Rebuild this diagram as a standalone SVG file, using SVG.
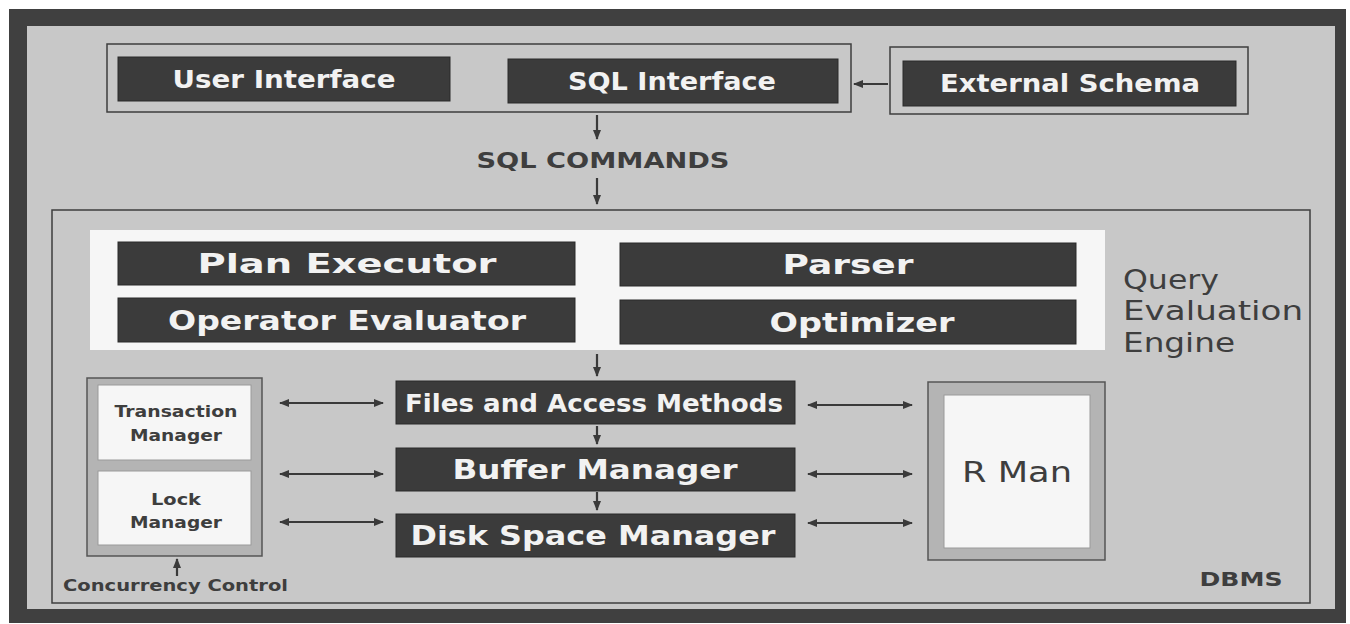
<svg xmlns="http://www.w3.org/2000/svg" width="1350" height="624" viewBox="0 0 1350 624">
<defs>
<marker id="ah" viewBox="0 0 10 10" refX="9" refY="5" markerWidth="11" markerHeight="10" markerUnits="userSpaceOnUse" orient="auto-start-reverse">
<path d="M0,1 L10,5 L0,9 Z" fill="#3a3a3a"/>
</marker>
<style>
.dark{fill:#3b3b3b;stroke:#2a2a2a;stroke-width:1}
.wt{fill:#f2f2f2;font-family:"DejaVu Sans",sans-serif;text-anchor:middle;font-weight:bold}
.gt{fill:#3e3e3e;font-family:"DejaVu Sans",sans-serif;text-anchor:middle}
.frame{fill:none;stroke:#3e3e3e;stroke-width:1.5}
.conn line{stroke:#3a3a3a;stroke-width:2.2}
.white{fill:#f6f6f6;stroke:#9a9a9a;stroke-width:1}
.grp{fill:#b4b4b4;stroke:#555;stroke-width:1.5}
</style>
</defs>
<rect x="0" y="0" width="1350" height="624" fill="#ffffff"/>
<rect x="9" y="9" width="1337" height="614" fill="#404040"/>
<rect x="27" y="26" width="1308" height="583" fill="#c8c8c8"/>

<g id="top-group">
<rect class="frame" x="107" y="44" width="744" height="68"/>
</g>
<g id="user-interface">
<rect class="dark" x="118" y="57" width="332" height="44"/>
<text class="wt" x="284" y="88" font-size="24" textLength="223" lengthAdjust="spacingAndGlyphs">User Interface</text>
</g>
<g id="sql-interface">
<rect class="dark" x="508" y="59" width="330" height="44"/>
<text class="wt" x="672" y="90" font-size="24" textLength="208" lengthAdjust="spacingAndGlyphs">SQL Interface</text>
</g>
<g id="external-schema">
<rect class="frame" x="890" y="47" width="358" height="67"/>
<rect class="dark" x="903" y="61" width="333" height="45"/>
<text class="wt" x="1070" y="92" font-size="24" textLength="260" lengthAdjust="spacingAndGlyphs">External Schema</text>
</g>
<g id="sql-commands">
<text class="gt" x="603" y="168" font-size="21" font-weight="bold" textLength="253" lengthAdjust="spacingAndGlyphs">SQL COMMANDS</text>
</g>

<g id="dbms">
<rect class="frame" x="52" y="210" width="1258" height="393"/>
<text class="gt" x="1241" y="586" font-size="20" font-weight="bold" textLength="83" lengthAdjust="spacingAndGlyphs">DBMS</text>
</g>

<g id="query-evaluation-engine">
<rect x="90" y="230" width="1015" height="120" fill="#f6f6f6"/>
<text class="gt" x="1123" y="289" font-size="26" style="text-anchor:start" textLength="96" lengthAdjust="spacingAndGlyphs">Query</text>
<text class="gt" x="1123" y="320" font-size="26" style="text-anchor:start" textLength="180" lengthAdjust="spacingAndGlyphs">Evaluation</text>
<text class="gt" x="1123" y="352" font-size="26" style="text-anchor:start" textLength="112" lengthAdjust="spacingAndGlyphs">Engine</text>
</g>
<g id="plan-executor">
<rect class="dark" x="118" y="242" width="457" height="43"/>
<text class="wt" x="347" y="273" font-size="27" textLength="299" lengthAdjust="spacingAndGlyphs">Plan Executor</text>
</g>
<g id="parser">
<rect class="dark" x="620" y="243" width="456" height="43"/>
<text class="wt" x="848" y="274" font-size="27" textLength="131" lengthAdjust="spacingAndGlyphs">Parser</text>
</g>
<g id="operator-evaluator">
<rect class="dark" x="118" y="298" width="457" height="44"/>
<text class="wt" x="347" y="330" font-size="27" textLength="358" lengthAdjust="spacingAndGlyphs">Operator Evaluator</text>
</g>
<g id="optimizer">
<rect class="dark" x="620" y="300" width="456" height="44"/>
<text class="wt" x="862" y="332" font-size="27" textLength="185" lengthAdjust="spacingAndGlyphs">Optimizer</text>
</g>

<g id="files-access-methods">
<rect class="dark" x="396" y="381" width="399" height="43"/>
<text class="wt" x="594" y="412" font-size="25" textLength="378" lengthAdjust="spacingAndGlyphs">Files and Access Methods</text>
</g>
<g id="buffer-manager">
<rect class="dark" x="396" y="448" width="399" height="43"/>
<text class="wt" x="595" y="479" font-size="27" textLength="285" lengthAdjust="spacingAndGlyphs">Buffer Manager</text>
</g>
<g id="disk-space-manager">
<rect class="dark" x="396" y="514" width="399" height="43"/>
<text class="wt" x="593" y="545" font-size="27" textLength="365" lengthAdjust="spacingAndGlyphs">Disk Space Manager</text>
</g>

<g id="concurrency-control">
<rect class="grp" x="87" y="378" width="175" height="178"/>
<text class="gt" x="63" y="591" font-size="15" font-weight="bold" style="text-anchor:start" textLength="225" lengthAdjust="spacingAndGlyphs">Concurrency Control</text>
</g>
<g id="transaction-manager">
<rect class="white" x="98" y="385" width="153" height="75"/>
<text class="gt" x="176" y="417" font-size="16" font-weight="bold" textLength="123" lengthAdjust="spacingAndGlyphs">Transaction</text>
<text class="gt" x="176" y="441" font-size="16" font-weight="bold" textLength="92" lengthAdjust="spacingAndGlyphs">Manager</text>
</g>
<g id="lock-manager">
<rect class="white" x="98" y="471" width="153" height="74"/>
<text class="gt" x="176" y="505" font-size="16" font-weight="bold" textLength="50" lengthAdjust="spacingAndGlyphs">Lock</text>
<text class="gt" x="176" y="528" font-size="16" font-weight="bold" textLength="92" lengthAdjust="spacingAndGlyphs">Manager</text>
</g>

<g id="r-man">
<rect class="grp" x="928" y="382" width="177" height="178"/>
<rect class="white" x="944" y="395" width="146" height="153"/>
<text class="gt" x="1017" y="482" font-size="28" textLength="110" lengthAdjust="spacingAndGlyphs">R Man</text>
</g>

<g id="connectors" class="conn">
<line x1="888" y1="84" x2="854" y2="84" marker-end="url(#ah)"/>
<line x1="597" y1="115" x2="597" y2="139" marker-end="url(#ah)"/>
<line x1="597" y1="178" x2="597" y2="204" marker-end="url(#ah)"/>
<line x1="597" y1="354" x2="597" y2="376" marker-end="url(#ah)"/>
<line x1="597" y1="426" x2="597" y2="444" marker-end="url(#ah)"/>
<line x1="597" y1="492" x2="597" y2="510" marker-end="url(#ah)"/>
<line x1="177" y1="576" x2="177" y2="559" marker-end="url(#ah)"/>
<line x1="280" y1="403" x2="383" y2="403" marker-start="url(#ah)" marker-end="url(#ah)"/>
<line x1="280" y1="474" x2="383" y2="474" marker-start="url(#ah)" marker-end="url(#ah)"/>
<line x1="280" y1="522" x2="383" y2="522" marker-start="url(#ah)" marker-end="url(#ah)"/>
<line x1="808" y1="405" x2="912" y2="405" marker-start="url(#ah)" marker-end="url(#ah)"/>
<line x1="808" y1="474" x2="912" y2="474" marker-start="url(#ah)" marker-end="url(#ah)"/>
<line x1="808" y1="523" x2="912" y2="523" marker-start="url(#ah)" marker-end="url(#ah)"/>
</g>
</svg>
